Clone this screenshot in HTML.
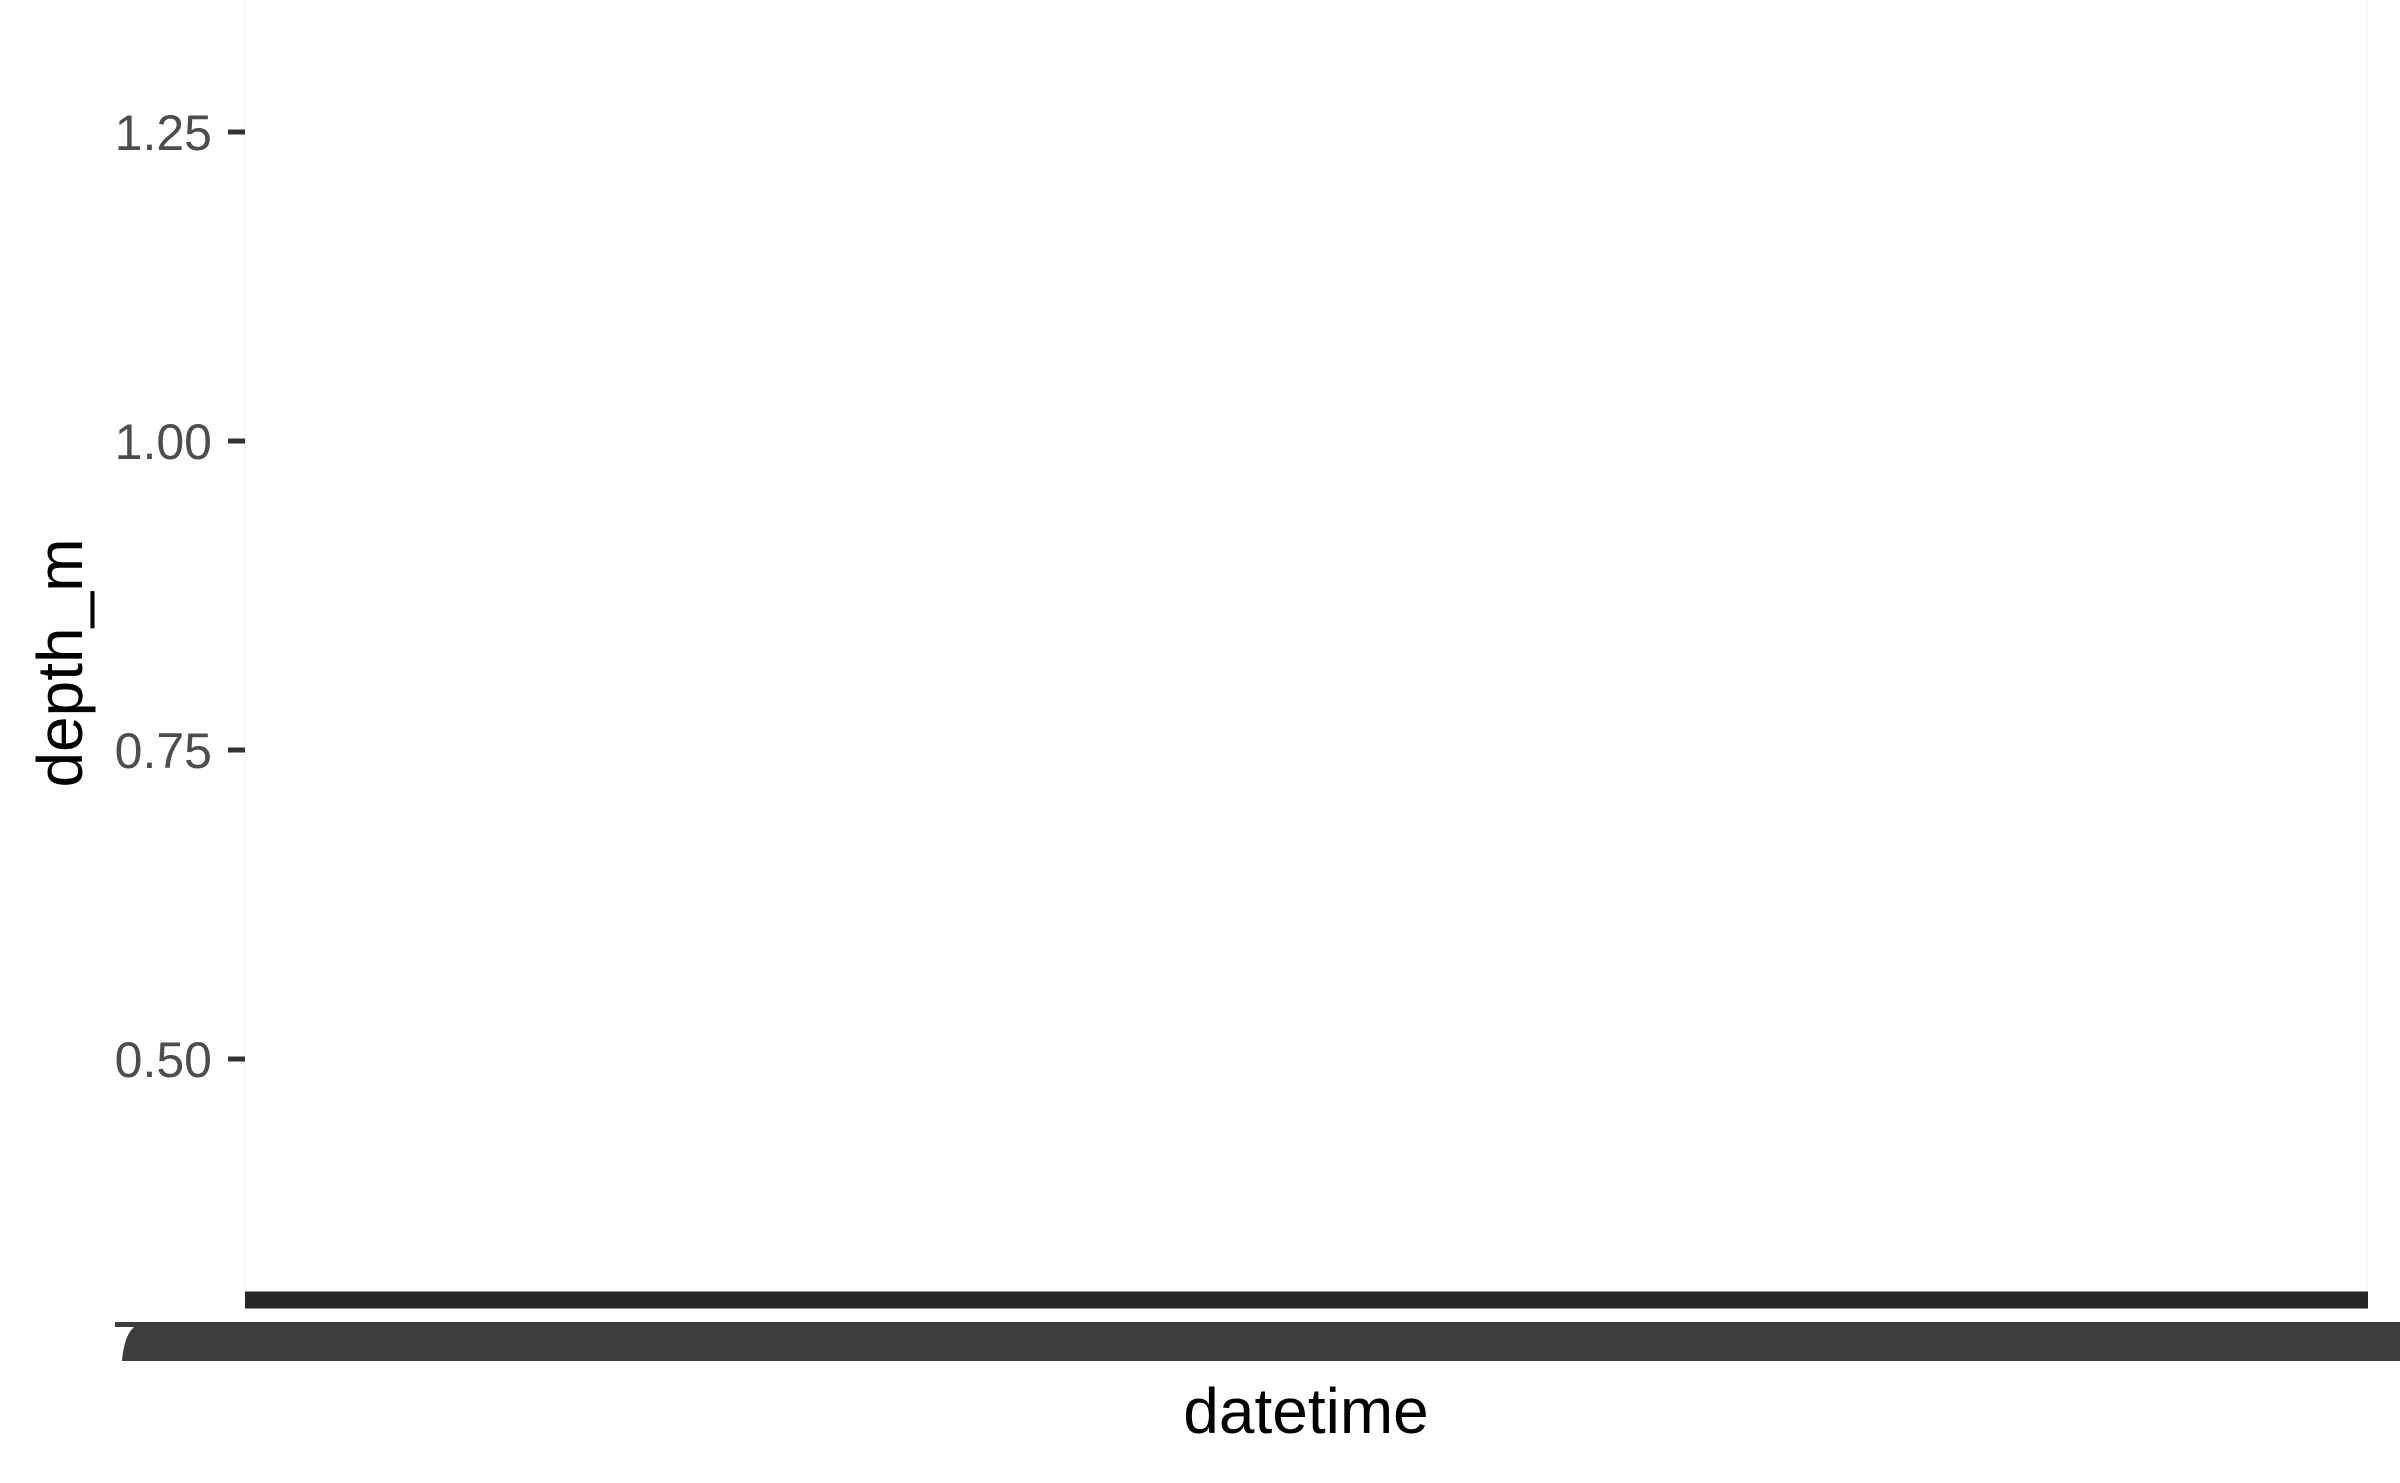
<!DOCTYPE html>
<html><head><meta charset="utf-8"><style>
html,body{margin:0;padding:0;background:#fff;}
svg{display:block;font-family:"Liberation Sans",Arial,sans-serif;}
</style></head><body>
<svg id="chart" width="2400" height="1483" viewBox="0 0 2400 1483" xmlns="http://www.w3.org/2000/svg">
<rect x="0" y="0" width="2400" height="1483" fill="#ffffff"/>
<line x1="245" y1="0" x2="245" y2="1310" stroke="#f7f7f7" stroke-width="2"/>
<line x1="2367" y1="0" x2="2367" y2="1310" stroke="#f7f7f7" stroke-width="2"/>
<g id="yaxis"></g>
<g id="series"></g>
<g>
<path d="M115 1322 L2400 1322 L2400 1361 L122 1361 Q124 1336 134 1327 L115 1327 Z" fill="#3d3d3d"/>
</g>
<text x="1306" y="1433" font-size="64" fill="#000" text-anchor="middle">datetime</text>
<text x="0" y="0" font-size="64" fill="#000" text-anchor="middle" transform="translate(82,663) rotate(-90)">depth_m</text>
</svg>
<script>
var yTicks = [0.50, 0.75, 1.00, 1.25];
var yTickLabels = ["0.50", "0.75", "1.00", "1.25"];
var timeIndex = [0, 1, 2, 3, 4, 5, 6, 7, 8, 9, 10];
var depthValues = [0.305, 0.305, 0.305, 0.305, 0.305, 0.305, 0.305, 0.305, 0.305, 0.305, 0.305];

var NS = "http://www.w3.org/2000/svg";
function yScale(v){ return 441 - (v - 1.0) * 1236; }
function xScale(i){ return 245 + (i - timeIndex[0]) / (timeIndex[timeIndex.length-1] - timeIndex[0]) * (2368 - 245); }

var yaxis = document.getElementById('yaxis');
yTicks.forEach(function(t, k){
  var y = yScale(t);
  var ln = document.createElementNS(NS, 'line');
  ln.setAttribute('x1', 228); ln.setAttribute('x2', 245);
  ln.setAttribute('y1', y); ln.setAttribute('y2', y);
  ln.setAttribute('stroke', '#333'); ln.setAttribute('stroke-width', 5);
  
  
  yaxis.appendChild(ln);
  var tx = document.createElementNS(NS, 'text');
  tx.setAttribute('x', 212); tx.setAttribute('y', y + 18);
  tx.setAttribute('font-size', 50); tx.setAttribute('fill', '#4d4d4d');
  tx.setAttribute('text-anchor', 'end');
  tx.textContent = yTickLabels[k];
  
  
  yaxis.appendChild(tx);
});

var series = document.getElementById('series');
var d = '';
timeIndex.forEach(function(t, k){
  d += (k === 0 ? 'M' : 'L') + xScale(t) + ' ' + yScale(depthValues[k]) + ' ';
});
var p = document.createElementNS(NS, 'path');
p.setAttribute('d', d);
p.setAttribute('fill', 'none');
p.setAttribute('stroke', '#262626');
p.setAttribute('stroke-width', 17);


series.appendChild(p);
</script>
</body></html>
